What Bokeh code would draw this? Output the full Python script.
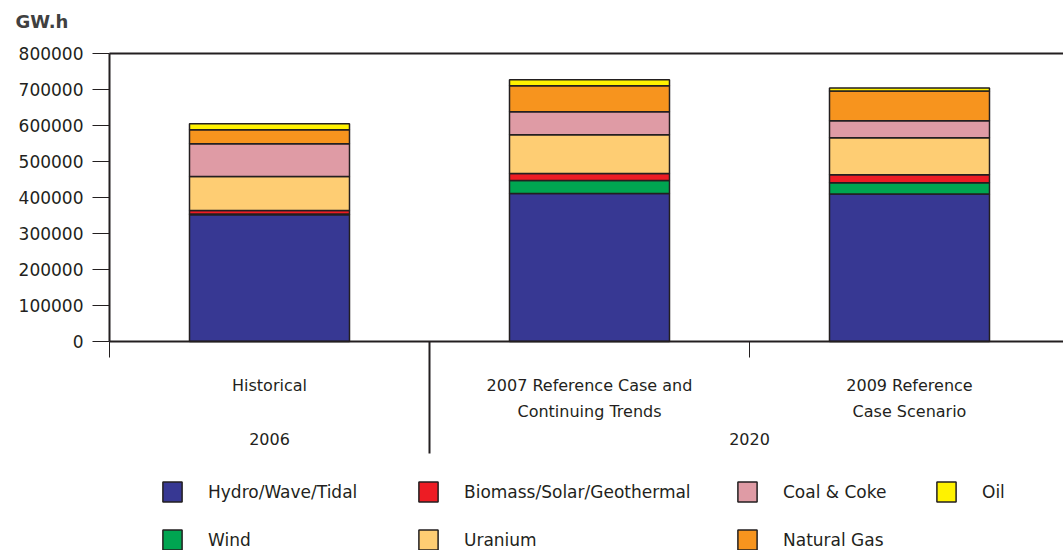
from bokeh.plotting import figure
from bokeh.models import (ColumnDataSource, Range1d, FixedTicker, LinearAxis,
                          NumeralTickFormatter, Legend, LegendItem, Label)
from bokeh.core.properties import value
from bokeh.embed import file_html
from bokeh.resources import INLINE

# ---------------- data ----------------
scenarios = ["Historical", "2007 Reference Case and\nContinuing Trends", "2009 Reference\nCase Scenario"]
years = ["2006", "2020"]
year_groups = [[0], [1, 2]]   # scenario indices belonging to each year
series = ["Hydro/Wave/Tidal", "Wind", "Biomass/Solar/Geothermal", "Uranium",
          "Coal & Coke", "Natural Gas", "Oil"]
hydro = [352000, 411000, 410000]
wind = [2000, 36000, 31000]
biomass = [10000, 19500, 22000]
uranium = [94500, 108000, 103000]
coal = [91000, 64000, 47000]
gas = [39000, 72000, 83000]
oil = [16500, 16500, 8000]
colors = ["#373893", "#00a551", "#ed1c24", "#fecd73", "#df9ba5", "#f7941e", "#fff200"]
y_ticks = [0, 100000, 200000, 300000, 400000, 500000, 600000, 700000, 800000]
y_unit = "GW.h"

# ---------------- layout constants (pixels in the canvas) ----------------
W, H = 1063, 550
AXIS_X_PX = 109          # column of the value axis (category edge 0)
ZERO_PX = 341            # row of value 0
TOP_PX = 53              # row of the top tick value
Y_MAX = y_ticks[-1]
PX_PER_UNIT = (ZERO_PX - TOP_PX) / Y_MAX
CAT_PX = 320


def y_at(px):
    return (ZERO_PX - px) / PX_PER_UNIT


def x_at(px):
    return (px - AXIS_X_PX) / CAT_PX


FONT = "DejaVu Sans"
TXT = "#231f20"
X_END = x_at(W)

p = figure(width=W, height=H, output_backend="svg", toolbar_location=None,
           x_range=Range1d(x_at(0), X_END), y_range=Range1d(y_at(H), y_at(0)),
           min_border_left=0, min_border_right=0, min_border_top=0, min_border_bottom=0,
           background_fill_color="white", border_fill_color="white")
p.outline_line_color = None
p.grid.visible = False
p.title.visible = False

# ---------------- bars ----------------
xs = [i + 0.5 for i in range(len(scenarios))]
src = ColumnDataSource(dict(x=xs, hydro=hydro, wind=wind, biomass=biomass, uranium=uranium,
                            coal=coal, gas=gas, oil=oil))
keys = ["hydro", "wind", "biomass", "uranium", "coal", "gas", "oil"]
rends = p.vbar_stack(keys, x="x", width=0.5, color=colors, line_color="#231f20",
                     line_width=1.5, source=src)

# ---------------- axes ----------------
ya = p.yaxis[0]
ya.fixed_location = 0
ya.bounds = (0, Y_MAX)
ya.ticker = FixedTicker(ticks=y_ticks, minor_ticks=[])
ya.formatter = NumeralTickFormatter(format="0")
ya.major_tick_out = 17
ya.major_tick_in = 0
ya.minor_tick_line_color = None
ya.axis_line_width = 2
ya.axis_line_color = TXT
ya.major_tick_line_color = TXT
ya.major_label_standoff = 9
ya.major_label_text_font = FONT
ya.major_label_text_font_size = "17px"
ya.major_label_text_color = TXT

# x axis at value 0: only boundary ticks between categories (minor ticks, no labels)
xa = p.xaxis[0]
xa.fixed_location = 0
xa.bounds = (0, X_END)
xa.ticker = FixedTicker(ticks=[], minor_ticks=list(range(len(scenarios))))
xa.minor_tick_out = 16
xa.minor_tick_in = 0
xa.minor_tick_line_color = TXT
xa.minor_tick_line_width = 1
xa.major_tick_line_color = None
xa.axis_line_width = 2
xa.axis_line_color = TXT

top = LinearAxis(fixed_location=Y_MAX, bounds=(0, X_END),
                 ticker=FixedTicker(ticks=[], minor_ticks=[]),
                 axis_line_width=2, axis_line_color=TXT,
                 minor_tick_line_color=None, major_tick_line_color=None)
p.add_layout(top, "above")

# group separator between years
sep_x = [float(g[0]) for g in year_groups[1:]]
p.segment(x0=sep_x, y0=[0] * len(sep_x), x1=sep_x, y1=[y_at(453)] * len(sep_x),
          line_color=TXT, line_width=2)

# ---------------- category labels ----------------
lx, ly, lt = [], [], []
for x, s in zip(xs, scenarios):
    for j, line in enumerate(s.split("\n")):
        lx.append(x)
        ly.append(y_at(385 + 26 * j))
        lt.append(line)
for yr, grp in zip(years, year_groups):
    lx.append((grp[0] + grp[-1] + 1) / 2)
    ly.append(y_at(438))
    lt.append(yr)
p.text(x=lx, y=ly, text=lt, text_font=value(FONT), text_font_size="16px",
       text_color=TXT, text_align="center", text_baseline="middle")

# ---------------- unit label ----------------
unit = Label(x=x_at(15), y=y_at(21), text=y_unit,
             text_font=FONT, text_font_size="18px", text_font_style="bold",
             text_color="#404040", text_align="left", text_baseline="middle")
p.add_layout(unit)

# ---------------- legend (four columns) ----------------
columns = [[0, 1], [2, 3], [4, 5], [6]]
col_left = [160, 416, 735, 934]
for idx, cx in zip(columns, col_left):
    items = [LegendItem(label=series[i], renderers=[rends[i]]) for i in idx]
    bottom = -2 if len(idx) == 2 else 46
    leg = Legend(items=items, location=(cx, bottom), orientation="vertical",
                 glyph_width=24, glyph_height=25, label_standoff=24, spacing=23,
                 padding=0, margin=0, border_line_color=None, background_fill_alpha=0,
                 label_text_font=FONT, label_text_font_size="17px", label_text_color=TXT,
                 label_height=25)
    p.add_layout(leg, "center")

open("out.html", "w").write(file_html(p, INLINE))
